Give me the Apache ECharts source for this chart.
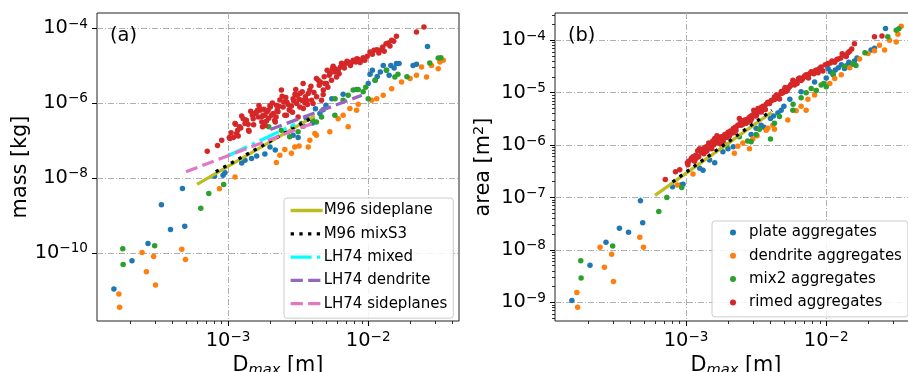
<!DOCTYPE html>
<html><head><meta charset="utf-8">
<script src="https://cdn.jsdelivr.net/npm/echarts@6/dist/echarts.min.js"></script>
<style>html,body{margin:0;padding:0;background:#fff}#c{width:908px;height:372px}</style>
</head><body><div id="c"></div>
<script>
// ---------------- data ----------------
const plateD = [1.53e-4, 2.06e-4, 2.68e-4, 3.34e-4, 3.88e-4, 4.72e-4, 4.9e-4, 8.0e-4, 9.2e-4, 9.5e-4, 1.25e-3, 1.32e-3, 1.47e-3, 1.6e-3, 1.83e-3, 1.99e-3, 2.17e-3, 2.91e-3, 3.16e-3, 3.43e-3, 3.6e-3, 4.0e-3, 4.2e-3, 4.52e-3, 4.77e-3, 4.99e-3, 5.5e-3, 6.62e-3, 8.26e-3, 1.0e-2, 1.03e-2, 1.07e-2, 1.12e-2, 1.16e-2, 1.22e-2, 1.28e-2, 1.35e-2, 1.41e-2, 1.45e-2, 1.53e-2, 1.59e-2, 1.66e-2, 2.09e-2, 2.21e-2, 2.65e-2];
const plateMass = [1.08e-11, 6.1e-11, 1.78e-10, 1.9e-9, 4.2e-10, 5.2e-9, 5.1e-10, 1.1e-8, 1.18e-8, 1.36e-8, 2.5e-8, 2.96e-8, 3.3e-8, 3.8e-8, 4.3e-8, 6.7e-8, 5.5e-8, 1.37e-7, 1.19e-7, 2.4e-7, 4.0e-7, 2.9e-7, 7.0e-7, 5.2e-7, 6.6e-7, 8.7e-7, 1.3e-6, 1.7e-6, 2.27e-6, 3.3e-6, 5.8e-6, 7.4e-6, 4.0e-6, 5.1e-6, 6.7e-6, 1.0e-5, 7.4e-6, 5.5e-6, 1.0e-5, 8.6e-6, 1.12e-5, 1.12e-5, 1.0e-5, 1.07e-5, 3.2e-5];
const plateArea = [1.08e-9, 5.1e-9, 1.4e-8, 2.6e-8, 2.17e-8, 8.7e-8, 3.3e-8, 1.6e-7, 1.73e-7, 1.8e-7, 3.6e-7, 3.3e-7, 5.2e-7, 4.6e-7, 7.5e-7, 8.5e-7, 9.3e-7, 1.6e-6, 2.1e-6, 2.4e-6, 2.2e-6, 3.2e-6, 3.6e-6, 4.1e-6, 4.6e-6, 5.5e-6, 7.5e-6, 1.04e-5, 1.6e-5, 1.9e-5, 2.9e-5, 2.5e-5, 2.2e-5, 2.7e-5, 3.0e-5, 3.4e-5, 2.9e-5, 3.3e-5, 3.8e-5, 3.5e-5, 4.0e-5, 4.6e-5, 6.5e-5, 7.0e-5, 1.67e-4];

const dendriteD = [1.66e-4, 1.68e-4, 2.43e-4, 2.61e-4, 2.94e-4, 3.03e-4, 4.67e-4, 4.96e-4, 8.67e-4, 1.12e-3, 2.21e-3, 2.34e-3, 2.54e-3, 2.83e-3, 2.99e-3, 3.21e-3, 3.73e-3, 3.83e-3, 4.16e-3, 4.27e-3, 5.32e-3, 6.1e-3, 6.62e-3, 7.19e-3, 7.4e-3, 8.26e-3, 8.49e-3, 1.06e-2, 1.15e-2, 1.28e-2, 1.47e-2, 1.73e-2, 1.99e-2, 2.21e-2, 2.4e-2, 2.61e-2, 2.83e-2, 3.16e-2, 3.25e-2, 3.43e-2];
const dendriteMass = [7.9e-12, 3.5e-12, 1.02e-10, 3.1e-11, 8.0e-11, 1.37e-11, 1.25e-10, 6.6e-11, 5.1e-9, 1.06e-8, 2.56e-8, 4.0e-8, 5.7e-8, 4.5e-8, 6.7e-8, 7.1e-8, 6.7e-8, 1.0e-7, 1.52e-7, 1.37e-7, 1.69e-7, 3.8e-7, 4.7e-7, 2.3e-7, 7.1e-7, 6.4e-7, 9.2e-7, 1.18e-6, 1.3e-6, 1.6e-6, 2.4e-6, 3.6e-6, 4.5e-6, 5.5e-6, 9.1e-6, 4.9e-6, 1.0e-5, 8.2e-6, 1.24e-5, 1.37e-5];
const dendriteArea = [1.54e-9, 8.1e-10, 1.12e-8, 4.7e-9, 8.3e-9, 2.5e-9, 1.74e-8, 1.12e-8, 1.73e-7, 2.8e-7, 7.0e-7, 9.5e-7, 1.1e-6, 8.5e-7, 1.3e-6, 1.5e-6, 1.93e-6, 2.1e-6, 2.4e-6, 2.0e-6, 3.0e-6, 4.5e-6, 5.5e-6, 4.6e-6, 7.5e-6, 9.0e-6, 1.1e-5, 1.5e-5, 1.86e-5, 2.2e-5, 3.0e-5, 4.4e-5, 5.6e-5, 6.3e-5, 8.0e-5, 6.5e-5, 1.0e-4, 9.3e-5, 1.3e-4, 1.85e-4];

const mix2D = [1.77e-4, 1.78e-4, 2.99e-4, 6.38e-4, 7.28e-4, 9.3e-4, 1.95e-3, 2.4e-3, 2.75e-3, 2.91e-3, 3.16e-3, 3.34e-3, 4.0e-3, 4.27e-3, 4.64e-3, 5.78e-3, 5.8e-3, 6.62e-3, 7.19e-3, 7.81e-3, 8.49e-3, 9.2e-3, 9.6e-3, 1.0e-2, 1.12e-2, 1.35e-2, 1.55e-2, 1.63e-2, 1.89e-2, 2.75e-2, 3.16e-2, 3.3e-2];
const mix2Mass = [1.28e-10, 4.9e-11, 1.54e-10, 1.55e-9, 3.8e-9, 6.6e-9, 2.3e-7, 1.87e-7, 1.24e-7, 2.3e-7, 1.69e-7, 2.8e-7, 3.5e-7, 3.1e-7, 4.2e-7, 4.7e-7, 1.3e-6, 1.18e-6, 1.6e-6, 2.2e-6, 2.27e-6, 2.0e-6, 2.6e-6, 1.3e-6, 4.0e-6, 7.4e-6, 4.9e-6, 5.8e-6, 5.0e-6, 1.17e-5, 1.58e-5, 1.6e-5];
const mix2Area = [6.2e-9, 2.9e-9, 1.19e-8, 5.4e-8, 1.0e-7, 1.56e-7, 1.0e-6, 1.44e-6, 1.2e-6, 1.16e-6, 1.6e-6, 2.0e-6, 1.3e-6, 2.6e-6, 3.5e-6, 4.6e-6, 6.0e-6, 8.0e-6, 1.0e-5, 1.2e-5, 1.1e-5, 1.4e-5, 1.5e-5, 1.3e-5, 2.3e-5, 3.2e-5, 3.6e-5, 3.3e-5, 5.8e-5, 1.16e-4, 1.55e-4, 1.65e-4];

const rimedD = [7.1e-4, 8.4e-4, 9.0e-4, 1.02e-3, 1.03e-3, 1.09e-3, 1.12e-3, 1.13e-3, 1.15e-3, 1.17e-3, 1.21e-3, 1.23e-3, 1.28e-3, 1.32e-3, 1.34e-3, 1.35e-3, 1.39e-3, 1.40e-3, 1.41e-3, 1.49e-3, 1.51e-3, 1.55e-3, 1.57e-3, 1.6e-3, 1.62e-3, 1.64e-3, 1.68e-3, 1.69e-3, 1.73e-3, 1.74e-3, 1.76e-3, 1.78e-3, 1.83e-3, 1.84e-3, 1.88e-3, 1.89e-3, 1.93e-3, 1.99e-3, 2.0e-3, 2.04e-3, 2.1e-3, 2.15e-3, 2.17e-3, 2.21e-3, 2.24e-3, 2.27e-3, 2.31e-3, 2.4e-3, 2.43e-3, 2.47e-3, 2.5e-3, 2.54e-3, 2.61e-3, 2.62e-3, 2.73e-3, 2.76e-3, 2.83e-3, 2.91e-3, 2.94e-3, 3.04e-3, 3.08e-3, 3.11e-3, 3.16e-3, 3.25e-3, 3.26e-3, 3.34e-3, 3.43e-3, 3.44e-3, 3.53e-3, 3.62e-3, 3.73e-3, 3.83e-3, 3.94e-3, 4.04e-3, 4.27e-3, 4.28e-3, 4.4e-3, 4.47e-3, 4.64e-3, 4.77e-3, 4.78e-3, 4.9e-3, 5.04e-3, 5.09e-3, 5.26e-3, 5.47e-3, 5.62e-3, 5.78e-3, 5.94e-3, 6.1e-3, 6.34e-3, 6.62e-3, 6.92e-3, 7.19e-3, 7.47e-3, 7.81e-3, 8.16e-3, 8.49e-3, 8.96e-3, 9.46e-3, 9.84e-3, 1.03e-2, 1.1e-2, 1.15e-2, 1.19e-2, 1.27e-2, 1.34e-2, 1.39e-2, 1.47e-2, 1.59e-2, 2.21e-2, 2.5e-2,
  1.25e-3, 1.45e-3, 1.52e-3, 1.66e-3, 1.8e-3, 1.95e-3, 2.07e-3, 2.2e-3, 2.34e-3, 2.58e-3, 2.68e-3, 2.88e-3, 3.0e-3, 3.2e-3, 3.38e-3, 3.56e-3, 3.68e-3, 3.9e-3, 4.1e-3, 4.55e-3, 4.85e-3, 5.15e-3, 5.35e-3, 5.55e-3, 5.85e-3, 6.2e-3, 6.45e-3, 6.75e-3, 7.05e-3, 7.6e-3, 8.3e-3, 8.75e-3, 9.2e-3, 1.07e-2, 1.22e-2, 1.3e-2, 1.43e-2, 1.52e-2, 1.05e-3, 1.18e-3];
const rimedMass = [5.1e-8, 7.3e-8, 1.0e-7, 1.19e-7, 1.12e-7, 1.19e-7, 2.8e-7, 2.7e-7, 1.52e-7, 1.87e-7, 2.3e-7, 2.15e-7, 3.8e-7, 2.8e-7, 3.45e-7, 3.45e-7, 2.7e-7, 1.87e-7, 1.75e-7, 4.7e-7, 3.8e-7, 5.2e-7, 5.2e-7, 5.8e-7, 6.4e-7, 4.2e-7, 7.1e-7, 6.4e-7, 4.2e-7, 3.1e-7, 2.3e-7, 4.7e-7, 4.7e-7, 2.5e-7, 3.3e-7, 5.8e-7, 6.4e-7, 8.5e-7, 7.8e-7, 4.7e-7, 5.2e-7, 3.45e-7, 3.1e-7, 8.7e-7, 6.4e-7, 5.8e-7, 8.1e-7, 2.2e-6, 1.5e-6, 7.8e-7, 1.06e-6, 4.7e-7, 4.7e-7, 1.06e-6, 6.6e-7, 6.4e-7, 8.3e-7, 1.3e-6, 1.13e-6, 2.27e-6, 9.6e-7, 1.6e-6, 4.2e-7, 7.8e-7, 1.77e-6, 1.18e-6, 3.3e-6, 7.1e-7, 1.0e-6, 1.18e-6, 1.77e-6, 2.2e-6, 1.18e-6, 9.6e-7, 4.5e-6, 1.45e-6, 4.0e-6, 2.96e-6, 1.18e-6, 1.67e-6, 2.2e-6, 3.3e-6, 3.3e-6, 7.4e-6, 5.5e-6, 4.0e-6, 9.5e-6, 6.7e-6, 4.9e-6, 7.4e-6, 9.1e-6, 1.0e-5, 1.12e-5, 1.24e-5, 1.0e-5, 1.37e-5, 1.24e-5, 1.43e-5, 1.37e-5, 1.37e-5, 1.75e-5, 2.29e-5, 2.54e-5, 2.64e-5, 2.15e-5, 3.1e-5, 3.8e-5, 4.0e-5, 4.7e-5, 6.0e-5, 7.8e-5, 1.06e-4,
  4.5e-7, 6.0e-7, 2.6e-7, 8.5e-7, 6.8e-7, 3.9e-7, 1.0e-6, 4.2e-7, 1.2e-6, 1.4e-6, 9.0e-7, 5.6e-7, 1.7e-6, 1.25e-6, 2.0e-6, 1.45e-6, 9.0e-7, 2.8e-6, 1.9e-6, 3.6e-6, 5.0e-6, 2.6e-6, 6.2e-6, 8.2e-6, 8.0e-6, 6.0e-6, 1.15e-5, 8.6e-6, 1.3e-5, 1.2e-5, 1.5e-5, 1.2e-5, 1.6e-5, 2.0e-5, 2.6e-5, 2.4e-5, 3.3e-5, 4.4e-5, 1.6e-7, 1.3e-7];
const rimedArea = [2.2e-7, 3.1e-7, 3.4e-7, 4.6e-7, 4.2e-7, 5.6e-7, 6.0e-7, 5.2e-7, 4.9e-7, 6.4e-7, 7.8e-7, 6.0e-7, 7.2e-7, 8.1e-7, 6.8e-7, 8.8e-7, 9.3e-7, 7.6e-7, 8.0e-7, 1.05e-6, 9.0e-7, 1.2e-6, 1.0e-6, 1.34e-6, 1.15e-6, 1.1e-6, 1.4e-6, 1.25e-6, 1.18e-6, 1.3e-6, 1.05e-6, 1.45e-6, 1.3e-6, 1.2e-6, 1.5e-6, 1.6e-6, 1.45e-6, 1.75e-6, 1.6e-6, 1.5e-6, 1.8e-6, 1.7e-6, 2.07e-6, 2.0e-6, 2.2e-6, 1.9e-6, 2.3e-6, 3.2e-6, 2.6e-6, 2.4e-6, 2.9e-6, 2.5e-6, 2.7e-6, 3.0e-6, 3.1e-6, 2.8e-6, 3.4e-6, 3.6e-6, 3.2e-6, 4.6e-6, 4.0e-6, 4.2e-6, 3.6e-6, 4.4e-6, 5.0e-6, 4.8e-6, 5.2e-6, 4.3e-6, 5.5e-6, 5.0e-6, 6.0e-6, 6.6e-6, 6.2e-6, 7.0e-6, 8.3e-6, 7.4e-6, 9.0e-6, 8.0e-6, 7.6e-6, 9.6e-6, 1.05e-5, 1.0e-5, 1.15e-5, 1.25e-5, 1.1e-5, 1.3e-5, 1.45e-5, 1.73e-5, 1.4e-5, 1.6e-5, 1.85e-5, 1.7e-5, 2.0e-5, 2.2e-5, 1.9e-5, 2.5e-5, 2.3e-5, 2.7e-5, 2.9e-5, 2.6e-5, 3.4e-5, 3.6e-5, 4.0e-5, 3.8e-5, 4.3e-5, 4.6e-5, 5.2e-5, 4.9e-5, 6.2e-5, 8.6e-5, 1.16e-4, 1.2e-4,
  8.5e-7, 1.1e-6, 8.5e-7, 1.5e-6, 1.35e-6, 1.4e-6, 1.85e-6, 1.75e-6, 2.4e-6, 2.8e-6, 2.6e-6, 2.9e-6, 3.8e-6, 3.9e-6, 4.5e-6, 5.4e-6, 4.8e-6, 6.4e-6, 7.2e-6, 8.8e-6, 1.0e-5, 1.05e-5, 1.2e-5, 1.35e-5, 1.55e-5, 1.5e-5, 1.9e-5, 1.8e-5, 2.1e-5, 2.3e-5, 2.6e-5, 2.4e-5, 3.1e-5, 3.7e-5, 4.4e-5, 5.5e-5, 5.8e-5, 6.8e-5, 5.0e-7, 5.6e-7];

// fitted relations (end points)
const m96SideMassD = [6.0e-4, 4.16e-3], m96SideMass = [6.7e-9, 4.5e-7];
const m96MixMassD = [8.17e-4, 4.05e-3], m96MixMass = [1.45e-8, 4.2e-7];
const lhMixedD = [1.0e-3, 3.0e-3], lhMixedMass = [3.9e-8, 2.7e-7];
const lhDendD = [2.0e-3, 9.0e-3], lhDendMass = [1.95e-7, 1.6e-6];
const lhSideD = [5.0e-4, 4.0e-3], lhSideMass = [1.45e-8, 2.83e-7];
const m96SideAreaD = [6.0e-4, 4.07e-3], m96SideArea = [1.1e-7, 4.2e-6];
const m96MixAreaD = [8.0e-4, 4.1e-3], m96MixArea = [1.98e-7, 4.6e-6];

// ticks
const xMajorTicks = [1e-3, 1e-2];
const xMinorTicks = [2e-4, 3e-4, 4e-4, 5e-4, 6e-4, 7e-4, 8e-4, 9e-4, 2e-3, 3e-3, 4e-3, 5e-3, 6e-3, 7e-3, 8e-3, 9e-3, 2e-2, 3e-2, 4e-2];
const massMajorTicks = [1e-10, 1e-8, 1e-6, 1e-4];
const areaMajorTicks = [1e-9, 1e-8, 1e-7, 1e-6, 1e-5, 1e-4];
const areaMinorMult = [2, 3, 4, 5, 6, 7, 8, 9];
const areaMinorDecades = [1e-10, 1e-9, 1e-8, 1e-7, 1e-6, 1e-5, 1e-4];

// ---------------- chart ----------------
const X_MIN = 1.159e-4, X_MAX = 4.446e-2;
const M_MIN = 1.51e-12, M_MAX = 2.51e-4;
const A_MIN = 4.41e-10, A_MAX = 3.31e-4;
const FF = 'DejaVu Sans';
const areaMinorTicks = [];
areaMinorDecades.forEach(d => areaMinorMult.forEach(k => { const v = d * k; if (v > A_MIN && v < A_MAX) areaMinorTicks.push(v); }));

const pairs = (xs, ys) => xs.map((x, i) => [x, ys[i]]);
const COL = {plate:'#1f77b4', dend:'#ff7f0e', mix:'#2ca02c', rimed:'#d62728'};

const tickRich = {
  b: {fontSize: 19.4, fontFamily: FF, color: '#000', lineHeight: 22},
  s: {fontSize: 13.6, fontFamily: FF, color: '#000', lineHeight: 10, verticalAlign: 'top'}
};
function logLabel(v) {
  const e = Math.round(Math.log10(v));
  return '{b|10}{s|\u2212' + Math.abs(e) + '}';
}
const gridLine = {show: true, lineStyle: {color: '#b0b0b0', width: 1, type: [6, 2, 1, 2]}};

function mainAxis(gi, min, max, ticks, extra) {
  return Object.assign({
    type: 'log', logBase: 10, gridIndex: gi, min: min, max: max,
    axisLine: {show: false, onZero: false},
    axisTick: {show: true, length: 5, lineStyle: {color: '#000', width: 1}, customValues: ticks},
    axisLabel: {show: true, margin: 9, formatter: logLabel, rich: tickRich, customValues: ticks},
    splitLine: gridLine,
    minorTick: {show: false}, minorSplitLine: {show: false}
  }, extra);
}
function minorAxis(gi, min, max, ticks, pos) {
  return {
    type: 'log', logBase: 10, gridIndex: gi, min: min, max: max, position: pos,
    axisLine: {show: false, onZero: false},
    axisTick: {show: true, length: 3, lineStyle: {color: '#000', width: 0.8}, customValues: ticks},
    axisLabel: {show: false},
    splitLine: {show: false}, minorTick: {show: false}
  };
}
const xName = {
  name: '{d|D}{sub|max}{d| [m]}', nameLocation: 'middle', nameGap: 27,
  nameTextStyle: {fontSize: 20.8, fontFamily: FF, color: '#000', rich: {
    d: {fontSize: 20.8, fontFamily: FF, color: '#000', lineHeight: 24},
    sub: {fontSize: 14.6, fontFamily: FF, fontStyle: 'italic', color: '#000', lineHeight: 14, verticalAlign: 'bottom'}
  }}
};

const scatterBase = {type: 'scatter', symbol: 'circle', symbolSize: 5.5, z: 2, silent: true};
function scat(name, color, xi, yi, data) {
  return Object.assign({}, scatterBase, {name: name, xAxisIndex: xi, yAxisIndex: yi, data: data, itemStyle: {color: color, opacity: 1}});
}
function line(name, color, xi, yi, data, dash, z) {
  return {type: 'line', name: name, xAxisIndex: xi, yAxisIndex: yi, data: data, symbol: 'none', showSymbol: false,
    silent: true, z: z, itemStyle: {color: color}, lineStyle: {color: color, width: 3.3, type: dash, cap: 'butt'}};
}

const chart = echarts.init(document.getElementById('c'), null, {renderer: 'canvas'});
chart.setOption({
  animation: false,
  backgroundColor: '#fff',
  textStyle: {fontFamily: FF},
  title: [
    {text: '(a)', left: 110, top: 26, padding: 0, textStyle: {fontSize: 19.4, fontWeight: 'normal', fontFamily: FF, color: '#000'}},
    {text: '(b)', left: 568, top: 26, padding: 0, textStyle: {fontSize: 19.4, fontWeight: 'normal', fontFamily: FF, color: '#000'}}
  ],
  grid: [
    {left: 97, top: 13, width: 362, height: 308, show: true, borderColor: '#222', borderWidth: 1, backgroundColor: 'transparent', containLabel: false, outerBoundsMode: 'none'},
    {left: 555, top: 13, width: 362, height: 308, show: true, borderColor: '#222', borderWidth: 1, backgroundColor: 'transparent', containLabel: false, outerBoundsMode: 'none'}
  ],
  xAxis: [
    mainAxis(0, X_MIN, X_MAX, xMajorTicks, Object.assign({position: 'bottom'}, xName)),
    minorAxis(0, X_MIN, X_MAX, xMinorTicks, 'bottom'),
    mainAxis(1, X_MIN, X_MAX, xMajorTicks, Object.assign({position: 'bottom'}, xName)),
    minorAxis(1, X_MIN, X_MAX, xMinorTicks, 'bottom')
  ],
  yAxis: [
    mainAxis(0, M_MIN, M_MAX, massMajorTicks, {position: 'left', name: 'mass [kg]', nameLocation: 'middle', nameGap: 64, nameRotate: 90,
      nameTextStyle: {fontSize: 20.8, fontFamily: FF, color: '#000'}}),
    mainAxis(1, A_MIN, A_MAX, areaMajorTicks, {position: 'left', name: '{n|area [m}{p|2}{n|]}', nameLocation: 'middle', nameGap: 59, nameRotate: 90,
      nameTextStyle: {fontSize: 20.8, fontFamily: FF, color: '#000', rich: {
        n: {fontSize: 20.8, fontFamily: FF, color: '#000', lineHeight: 24},
        p: {fontSize: 14.6, fontFamily: FF, color: '#000', lineHeight: 12, verticalAlign: 'top'}
      }}}),
    minorAxis(1, A_MIN, A_MAX, areaMinorTicks, 'left')
  ],
  legend: [
    {data: ['M96 sideplane', 'M96 mixS3', 'LH74 mixed', 'LH74 dendrite', 'LH74 sideplanes'],
     orient: 'vertical', left: 284, top: 198, itemWidth: 32, itemHeight: 14, itemGap: 8.3,
     padding: [5, 6, 7, 5], backgroundColor: 'rgba(255,255,255,0.85)', borderColor: '#cccccc', borderWidth: 1, borderRadius: 3,
     selectedMode: false, itemStyle: {opacity: 0, borderWidth: 0}, lineStyle: {width: 3.3},
     textStyle: {fontSize: 15, fontFamily: FF, color: '#000', lineHeight: 14, padding: [0, 0, 0, -4]}},
    {data: ['plate aggregates', 'dendrite aggregates', 'mix2 aggregates', 'rimed aggregates'],
     orient: 'vertical', left: 712, top: 221, itemWidth: 6, itemHeight: 6, itemGap: 8.3, icon: 'circle',
     padding: [4, 6, 7, 18], backgroundColor: 'rgba(255,255,255,0.85)', borderColor: '#cccccc', borderWidth: 1, borderRadius: 3,
     selectedMode: false,
     textStyle: {fontSize: 15, fontFamily: FF, color: '#000', lineHeight: 14, padding: [0, 0, 0, 8]}}
  ],
  series: [
    scat('plate aggregates', COL.plate, 0, 0, pairs(plateD, plateMass)),
    scat('dendrite aggregates', COL.dend, 0, 0, pairs(dendriteD, dendriteMass)),
    scat('mix2 aggregates', COL.mix, 0, 0, pairs(mix2D, mix2Mass)),
    scat('rimed aggregates', COL.rimed, 0, 0, pairs(rimedD, rimedMass)),
    line('M96 sideplane', '#bcbd22', 0, 0, pairs(m96SideMassD, m96SideMass), 'solid', 3),
    line('M96 mixS3', '#000000', 0, 0, pairs(m96MixMassD, m96MixMass), [3.3, 5.4], 4),
    line('LH74 mixed', '#00ffff', 0, 0, pairs(lhMixedD, lhMixedMass), [21, 5.3, 3.3, 5.3], 5),
    line('LH74 dendrite', '#9467bd', 0, 0, pairs(lhDendD, lhDendMass), [12.2, 5.3], 6),
    line('LH74 sideplanes', '#e377c2', 0, 0, pairs(lhSideD, lhSideMass), [12.2, 5.3], 7),
    scat('plate aggregates', COL.plate, 2, 1, pairs(plateD, plateArea)),
    scat('dendrite aggregates', COL.dend, 2, 1, pairs(dendriteD, dendriteArea)),
    scat('mix2 aggregates', COL.mix, 2, 1, pairs(mix2D, mix2Area)),
    scat('rimed aggregates', COL.rimed, 2, 1, pairs(rimedD, rimedArea)),
    line('M96 sideplane', '#bcbd22', 2, 1, pairs(m96SideAreaD, m96SideArea), 'solid', 3),
    line('M96 mixS3', '#000000', 2, 1, pairs(m96MixAreaD, m96MixArea), [3.3, 5.4], 4)
  ]
});
</script></body></html>
